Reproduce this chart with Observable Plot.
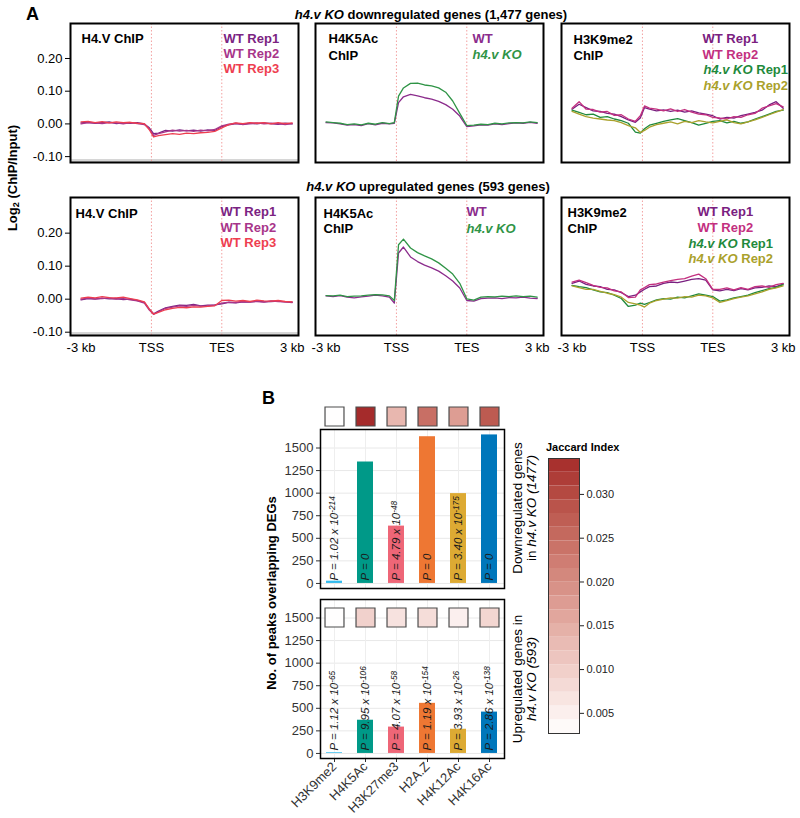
<!DOCTYPE html>
<html><head><meta charset="utf-8">
<script src="https://cdn.jsdelivr.net/npm/d3@7"></script>
<script src="https://cdn.jsdelivr.net/npm/@observablehq/plot@0.6"></script>
<style>
html,body{margin:0;padding:0;background:#fff;}
#fig{position:relative;width:800px;height:818px;overflow:hidden;font-family:"Liberation Sans",Arial,Helvetica,sans-serif;color:#000;background:#fff;}
.abs{position:absolute;white-space:nowrap;}
.rot{transform:translate(-50%,-50%) rotate(-90deg);text-align:center;}
.ctr{transform:translate(-50%,-50%);}
sub{font-size:70%;vertical-align:-0.25em;}
</style></head><body><div id="fig"></div>
<script>
// ---------------- DATA ----------------
// bin positions along the metagene (0 = -3 kb, 1 = TSS, 2 = TES, 3 = +3 kb)
const pos = [0,0.1,0.2,0.3,0.4,0.5,0.6,0.7,0.8,0.9,0.97,1.03,1.1,1.2,1.3,1.4,1.5,1.6,1.7,1.8,1.9,2.0,2.1,2.2,2.3,2.4,2.5,2.6,2.7,2.8,2.9,3.0];
const profileTicks = [0,1,2,3];
const profileTickLabels = ["-3 kb","TSS","TES","3 kb"];
const logTicks = [-0.1,0,0.1,0.2];

// h4.v KO downregulated genes
const h4vDownRep1 = [0.003,0.005,0.002,0.004,0.006,0.001,0.003,0.002,0.004,0.000,-0.012,-0.030,-0.028,-0.020,-0.022,-0.018,-0.021,-0.019,-0.022,-0.018,-0.020,-0.008,-0.003,0.001,-0.001,0.002,0.000,0.003,0.001,-0.001,0.002,0.000];
const h4vDownRep2 = [0.000,0.004,0.003,0.001,0.004,0.003,0.000,0.004,0.001,-0.002,-0.015,-0.035,-0.030,-0.024,-0.019,-0.022,-0.020,-0.023,-0.019,-0.021,-0.017,-0.006,-0.001,0.002,-0.002,0.001,0.003,0.000,0.002,0.001,-0.002,0.001];
const h4vDownRep3 = [0.006,0.008,0.004,0.007,0.003,0.006,0.004,0.005,0.002,0.001,-0.018,-0.040,-0.036,-0.033,-0.030,-0.032,-0.028,-0.030,-0.027,-0.026,-0.023,-0.012,-0.002,0.003,0.001,0.004,0.002,0.004,0.000,0.004,0.001,0.003];
const k5DownWT = [0.004,0.003,0.000,-0.004,-0.002,-0.005,0.001,-0.003,0.002,0.000,0.002,0.065,0.083,0.090,0.086,0.080,0.076,0.069,0.059,0.045,0.024,-0.008,-0.006,-0.003,-0.004,0.000,-0.002,0.001,0.003,0.002,0.005,0.002];
const k5DownKO = [0.006,0.004,0.002,-0.002,0.000,-0.003,0.002,-0.001,0.004,0.001,0.004,0.085,0.110,0.124,0.125,0.119,0.116,0.110,0.097,0.070,0.032,-0.005,-0.004,-0.001,-0.002,0.002,0.000,0.003,0.004,0.003,0.006,0.004];
const k9DownWT1 = [0.045,0.060,0.050,0.040,0.038,0.032,0.030,0.022,0.012,0.005,0.018,0.050,0.045,0.040,0.043,0.038,0.042,0.036,0.040,0.034,0.030,0.025,0.015,0.020,0.018,0.025,0.030,0.035,0.042,0.058,0.068,0.048];
const k9DownWT2 = [0.048,0.068,0.045,0.044,0.036,0.038,0.026,0.028,0.015,0.008,0.025,0.055,0.048,0.045,0.040,0.046,0.038,0.044,0.036,0.030,0.028,0.020,0.018,0.015,0.022,0.020,0.028,0.032,0.048,0.055,0.062,0.052];
const k9DownKO1 = [0.042,0.035,0.028,0.030,0.020,0.022,0.015,0.010,0.002,-0.025,-0.028,-0.015,-0.004,0.002,0.008,0.012,0.016,0.010,0.004,-0.004,0.002,0.008,0.010,0.003,0.008,0.002,0.006,0.015,0.022,0.030,0.038,0.042];
const k9DownKO2 = [0.038,0.030,0.022,0.018,0.015,0.012,0.010,0.004,-0.005,-0.012,-0.026,-0.020,-0.010,-0.002,0.002,0.006,0.000,0.008,0.004,0.010,0.006,0.003,0.008,0.012,0.004,0.000,0.006,0.012,0.020,0.028,0.036,0.044];

// h4.v KO upregulated genes
const h4vUpRep1 = [-0.002,0.002,0.000,0.003,0.001,0.002,-0.001,0.000,-0.004,-0.010,-0.030,-0.044,-0.036,-0.026,-0.022,-0.018,-0.019,-0.016,-0.020,-0.018,-0.017,-0.014,-0.010,-0.011,-0.008,-0.009,-0.006,-0.008,-0.007,-0.006,-0.008,-0.009];
const h4vUpRep2 = [0.000,0.003,0.001,0.002,0.004,0.000,0.002,-0.002,-0.005,-0.012,-0.033,-0.046,-0.038,-0.028,-0.024,-0.020,-0.022,-0.019,-0.021,-0.020,-0.018,-0.012,-0.009,-0.010,-0.007,-0.008,-0.007,-0.009,-0.005,-0.007,-0.008,-0.010];
const h4vUpRep3 = [0.003,0.006,0.004,0.008,0.005,0.004,0.006,0.002,-0.002,-0.008,-0.030,-0.045,-0.040,-0.032,-0.028,-0.025,-0.026,-0.023,-0.024,-0.022,-0.020,-0.004,-0.003,-0.006,-0.004,-0.007,-0.003,-0.005,-0.006,-0.004,-0.007,-0.008];
const k5UpWT = [0.010,0.008,0.011,0.006,0.004,0.007,0.009,0.012,0.010,0.006,-0.012,0.140,0.158,0.128,0.114,0.103,0.095,0.085,0.071,0.055,0.034,-0.004,-0.006,0.002,0.003,0.004,0.002,0.005,0.004,0.006,0.003,0.002];
const k5UpKO = [0.011,0.010,0.012,0.008,0.009,0.010,0.012,0.014,0.013,0.010,-0.004,0.165,0.182,0.155,0.141,0.131,0.122,0.110,0.094,0.076,0.048,0.001,-0.003,0.006,0.008,0.007,0.009,0.008,0.010,0.008,0.009,0.006];
const k9UpWT1 = [0.048,0.055,0.045,0.040,0.038,0.030,0.028,0.020,0.008,0.012,0.022,0.030,0.038,0.040,0.048,0.052,0.050,0.055,0.060,0.062,0.058,0.028,0.025,0.030,0.026,0.032,0.028,0.034,0.036,0.040,0.038,0.046];
const k9UpWT2 = [0.052,0.058,0.050,0.042,0.036,0.034,0.025,0.022,0.005,0.006,0.028,0.035,0.044,0.046,0.052,0.056,0.060,0.062,0.070,0.076,0.062,0.030,0.030,0.034,0.028,0.035,0.030,0.038,0.040,0.036,0.044,0.048];
const k9UpKO1 = [0.042,0.038,0.035,0.028,0.022,0.020,0.012,0.002,-0.022,-0.018,-0.012,-0.016,-0.010,-0.002,0.002,0.000,0.006,0.004,0.010,0.016,0.012,0.008,-0.006,-0.002,0.004,0.008,0.012,0.020,0.026,0.032,0.036,0.044];
const k9UpKO2 = [0.040,0.035,0.030,0.030,0.024,0.018,0.014,0.006,-0.010,-0.014,-0.018,-0.024,-0.012,-0.004,0.000,0.004,0.003,0.008,0.006,0.012,0.010,0.004,-0.010,-0.004,0.002,0.006,0.010,0.016,0.022,0.030,0.034,0.040];

// Panel B
const histoneMarks = ["H3K9me2","H4K5Ac","H3K27me3","H2A.Z","H4K12Ac","H4K16Ac"];
const overlapDown = [25,1345,635,1625,995,1645];
const overlapUp = [8,368,292,555,268,458];
const jaccardDown = [0.0028,0.0340,0.0135,0.0245,0.0175,0.0275];
const jaccardUp = [0.0028,0.0095,0.0070,0.0078,0.0050,0.0088];
const pDown = ["1.02 x 10^-214^","0","4.79 x 10^-48^","0","3.40 x 10^-175^","0"];
const pUp = ["1.12 x 10^-65^","9.95 x 10^-106^","4.07 x 10^-58^","1.19 x 10^-154^","3.93 x 10^-26^","2.86 x 10^-138^"];
const countTicks = [0,250,500,750,1000,1250,1500];
const jaccardTicks = [0.005,0.010,0.015,0.020,0.025,0.030];
const jaccardDomain = [0.0027,0.0341];

// ---------------- STYLE ----------------
const FONT = '"Liberation Sans", Arial, Helvetica, sans-serif';
const baseStyle = {fontFamily: FONT, fontSize: "13px", color: "#000", background: "transparent", overflow: "visible"};
const col = {
  wt1: "#7b2382", wt2: "#a8358a", wt3: "#ee3e50",
  wt: "#8b2c8c", ko: "#2f9446",
  k9wt1: "#7a2080", k9wt2: "#c3307f", k9ko1: "#1f8a3c", k9ko2: "#aaa12c"
};
const barColors = ["#33bbee","#009988","#ee6677","#ee7733","#ddaa33","#0077bb"];
const jaccardColor = {type: "linear", domain: jaccardDomain, range: ["#ffffff", "#a52a2a"], interpolate: "lab"};

const fig = document.getElementById("fig");

// markup: _italic_  ^superscript^  ~subscript~
function richify(svg) {
  svg.querySelectorAll("text").forEach(t => {
    if (t.querySelector("tspan")) return;
    const s = t.textContent;
    if (!/[_^~]/.test(s)) return;
    t.textContent = "";
    let it = false, mode = null, buf = "";
    const flush = () => {
      if (!buf) return;
      const ts = document.createElementNS("http://www.w3.org/2000/svg", "tspan");
      ts.textContent = buf;
      if (it) ts.setAttribute("font-style", "italic");
      if (mode) { ts.setAttribute("baseline-shift", mode === "sup" ? "35%" : "-20%"); ts.setAttribute("font-size", "72%"); }
      t.appendChild(ts); buf = "";
    };
    for (const ch of s) {
      if (ch === "_") { flush(); it = !it; }
      else if (ch === "^") { flush(); mode = mode === "sup" ? null : "sup"; }
      else if (ch === "~") { flush(); mode = mode === "sub" ? null : "sub"; }
      else buf += ch;
    }
    flush();
  });
}
function place(svg, left, top) {
  svg.style.position = "absolute";
  svg.style.left = left + "px";
  svg.style.top = top + "px";
  svg.style.maxWidth = "none";
  richify(svg);
  fig.appendChild(svg);
}
function html(content, left, top, cls, css) {
  const d = document.createElement("div");
  d.className = "abs " + (cls || "");
  d.style.left = left + "px"; d.style.top = top + "px";
  Object.assign(d.style, css || {});
  d.innerHTML = content;
  fig.appendChild(d);
}

// ---------------- PANEL A ----------------
const FRAME_W = 228;
function profile(p) {
  const mL = p.showY ? p.frameLeft : 3, mR = 3, mT = 3, mB = p.showX ? 26 : 3;
  const lineMarks = p.series.map(s =>
    Plot.line(s.v.map((y, i) => ({x: pos[i], y})), {x: "x", y: "y", stroke: s.c, strokeWidth: 1.3}));
  const textMarks = p.texts.map(([txt, dx, dy, fill]) =>
    Plot.text([txt], {text: d => d, frameAnchor: "top-left", dx, dy, fill, fontWeight: "bold", fontSize: 13, textAnchor: "start"}));
  const svg = Plot.plot({
    width: mL + FRAME_W + mR, height: mT + p.frameH + mB,
    marginLeft: mL, marginRight: mR, marginTop: mT, marginBottom: mB,
    style: baseStyle,
    x: Object.assign({domain: [-0.15, 3.09]}, p.showX
      ? {ticks: profileTicks, tickFormat: i => profileTickLabels[i], tickSize: 0, tickPadding: 7, label: null}
      : {axis: null}),
    y: Object.assign({domain: p.yDomain}, p.showY
      ? {ticks: logTicks, tickFormat: d => d.toFixed(2), tickSize: 5, tickPadding: 3, label: null}
      : {axis: null}),
    marks: [
      p.showY ? Plot.ruleY([p.yDomain[0]], {dy: -2, stroke: "#d6d6d6", strokeWidth: 3}) : null,
      Plot.ruleX([1, 2], {stroke: "#f3a0a0", strokeDasharray: "1.5,2", strokeWidth: 1}),
      ...lineMarks,
      ...textMarks,
      Plot.frame({stroke: "#000", strokeWidth: 2})
    ]
  });
  place(svg, p.frameLeft - mL, p.frameTop - mT);
}

const topY = [-0.118, 0.307], botY = [-0.11, 0.308];
const h4vLegend = ["WT Rep1", "WT Rep2", "WT Rep3"];
const k5Legend = ["WT", "_h4.v KO_"];
const k9Legend = ["WT Rep1", "WT Rep2", "_h4.v KO_ Rep1", "_h4.v KO_ Rep2"];

profile({frameLeft: 70, frameTop: 23, frameH: 139, yDomain: topY, showY: true, showX: false,
  series: [{v: h4vDownRep1, c: col.wt1}, {v: h4vDownRep2, c: col.wt2}, {v: h4vDownRep3, c: col.wt3}],
  texts: [["H4.V ChIP", 11, 10, "#000"], [h4vLegend[0], 153, 10, col.wt1], [h4vLegend[1], 153, 25, col.wt2], [h4vLegend[2], 153, 40, col.wt3]]});
profile({frameLeft: 315, frameTop: 23, frameH: 139, yDomain: topY, showY: false, showX: false,
  series: [{v: k5DownWT, c: col.wt}, {v: k5DownKO, c: col.ko}],
  texts: [["H4K5Ac", 13, 10, "#000"], ["ChIP", 13, 27, "#000"], [k5Legend[0], 157, 10, col.wt], [k5Legend[1], 157, 26, col.ko]]});
profile({frameLeft: 561, frameTop: 23, frameH: 139, yDomain: topY, showY: false, showX: false,
  series: [{v: k9DownWT1, c: col.k9wt1}, {v: k9DownWT2, c: col.k9wt2}, {v: k9DownKO1, c: col.k9ko1}, {v: k9DownKO2, c: col.k9ko2}],
  texts: [["H3K9me2", 12, 11, "#000"], ["ChIP", 12, 27, "#000"], [k9Legend[0], 141, 10, col.k9wt1], [k9Legend[1], 141, 26, col.k9wt2], [k9Legend[2], 142, 41, col.k9ko1], [k9Legend[3], 142, 57, col.k9ko2]]});

profile({frameLeft: 70, frameTop: 197, frameH: 138, yDomain: botY, showY: true, showX: true,
  series: [{v: h4vUpRep1, c: col.wt1}, {v: h4vUpRep2, c: col.wt2}, {v: h4vUpRep3, c: col.wt3}],
  texts: [["H4.V ChIP", 5, 11, "#000"], [h4vLegend[0], 150, 9, col.wt1], [h4vLegend[1], 150, 25, col.wt2], [h4vLegend[2], 150, 40, col.wt3]]});
profile({frameLeft: 315, frameTop: 197, frameH: 138, yDomain: botY, showY: false, showX: true,
  series: [{v: k5UpWT, c: col.wt}, {v: k5UpKO, c: col.ko}],
  texts: [["H4K5Ac", 8, 11, "#000"], ["ChIP", 8, 26, "#000"], [k5Legend[0], 151, 9, col.wt], [k5Legend[1], 151, 26, col.ko]]});
profile({frameLeft: 561, frameTop: 197, frameH: 138, yDomain: botY, showY: false, showX: true,
  series: [{v: k9UpWT1, c: col.k9wt1}, {v: k9UpWT2, c: col.k9wt2}, {v: k9UpKO1, c: col.k9ko1}, {v: k9UpKO2, c: col.k9ko2}],
  texts: [["H3K9me2", 6, 10, "#000"], ["ChIP", 6, 26, "#000"], [k9Legend[0], 136, 9, col.k9wt1], [k9Legend[1], 136, 25, col.k9wt2], [k9Legend[2], 127, 41, col.k9ko1], [k9Legend[3], 127, 56, col.k9ko2]]});

// ---------------- PANEL B ----------------
function bars(b) {
  const rows = histoneMarks.map((m, i) => ({mark: m, count: b.counts[i], j: b.jaccard[i], p: b.p[i]}));
  const mL = 52, mR = 2, mT = b.showX ? 2 : 24, mB = b.showX ? 60 : 2;
  const svg = Plot.plot({
    width: mL + 184 + mR, height: mT + 159 + mB,
    marginLeft: mL, marginRight: mR, marginTop: mT, marginBottom: mB,
    style: Object.assign({}, baseStyle, {color: "#333"}),
    x: Object.assign({domain: histoneMarks, paddingInner: 0.47, paddingOuter: 0.2}, b.showX
      ? {tickRotate: -45, tickSize: 4, tickPadding: 2, label: null}
      : {axis: null}),
    y: {domain: [-56, 1705], ticks: countTicks, tickFormat: d => String(d), tickSize: 4, tickPadding: 3, label: null},
    color: jaccardColor,
    marks: [
      Plot.gridY(countTicks, {stroke: "#e8e8e8", strokeOpacity: 1}),
      Plot.gridX(histoneMarks, {stroke: "#eeeeee", strokeOpacity: 1}),
      ...rows.map((r, i) => Plot.barY([r], {x: "mark", y: "count", fill: barColors[i]})),
      Plot.text(rows, {x: "mark", y: 0, dy: -3, text: d => "P = " + d.p, rotate: -90, textAnchor: "start",
        fontStyle: "italic", fontSize: 11.5, fill: "#1a1a1a"}),
      Plot.dot(rows, {x: "mark", frameAnchor: "top", dy: b.tileDy, symbol: "square", r: 10.7, fill: "j", stroke: "#4d4d4d", strokeWidth: 1.2}),
      Plot.frame({stroke: "#000", strokeWidth: 1.5})
    ]
  });
  place(svg, 320 - mL, b.frameTop - mT);
}
bars({counts: overlapDown, jaccard: jaccardDown, p: pDown, frameTop: 429, showX: false, tileDy: -13});
bars({counts: overlapUp, jaccard: jaccardUp, p: pUp, frameTop: 599, showX: true, tileDy: 18});

// Jaccard legend (stepped colour bar)
const nbin = 20;
const jStep = (jaccardDomain[1] - jaccardDomain[0]) / nbin;
const jBins = d3.range(nbin).map(i => ({lo: jaccardDomain[0] + i * jStep, hi: jaccardDomain[0] + (i + 1) * jStep, mid: jaccardDomain[0] + (i + 0.5) * jStep}));
place(Plot.plot({
  width: 1 + 31 + 48, height: 277,
  marginLeft: 1, marginRight: 48, marginTop: 1, marginBottom: 1,
  style: Object.assign({}, baseStyle, {fontSize: "11px", color: "#222"}),
  x: {domain: [0, 1], axis: null},
  y: {domain: jaccardDomain, axis: "right", ticks: jaccardTicks, tickFormat: d => d.toFixed(3), tickSize: 4, tickPadding: 3, label: null},
  color: jaccardColor,
  marks: [
    Plot.rect(jBins, {x1: 0, x2: 1, y1: "lo", y2: "hi", fill: "mid"}),
    Plot.frame({stroke: "#333", strokeWidth: 1})
  ]
}), 547, 457);

// ---------------- TEXT ----------------
html("A", 26, 4, "", {fontSize: "18px", fontWeight: "bold", lineHeight: "20px"});
html("<i>h4.v KO</i> downregulated genes (1,477 genes)", 431, 14, "ctr", {fontSize: "13px", fontWeight: "bold"});
html("<i>h4.v KO</i> upregulated genes (593 genes)", 428, 186, "ctr", {fontSize: "13px", fontWeight: "bold"});
html("Log<sub>2</sub> (ChIP/Input)", 13, 178, "rot", {fontSize: "13px", fontWeight: "bold"});
html("B", 262, 388, "", {fontSize: "18px", fontWeight: "bold", lineHeight: "20px"});
html("No. of peaks overlapping DEGs", 271, 593, "rot", {fontSize: "13px", fontWeight: "bold"});
html("Downregulated genes<br>in <i>h4.v KO (1477)</i>", 525, 508, "rot", {fontSize: "13.5px", lineHeight: "14px"});
html("Upregulated genes in<br><i>h4.v KO (593)</i>", 525, 679, "rot", {fontSize: "13.5px", lineHeight: "14px"});
html("Jaccard Index", 546, 447, "", {fontSize: "11px", fontWeight: "bold", transform: "translateY(-50%)"});
</script></body></html>
